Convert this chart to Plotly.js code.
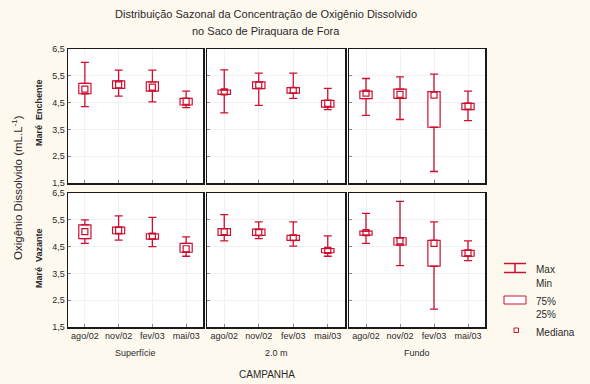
<!DOCTYPE html>
<html>
<head>
<meta charset="utf-8">
<script src="https://cdn.plot.ly/plotly-3.0.1.min.js"></script>
<style>html,body{margin:0;padding:0;background:#fdf9ef;}#chart{width:590px;height:384px;}</style>
</head>
<body>
<div id="chart"></div>
<script>
// ---- data ----
const categories = ["ago/02", "nov/02", "fev/03", "mai/03"];
const columns = ["Superfície", "2.0 m", "Fundo"];
const rows = ["Maré  Enchente", "Maré  Vazante"];
const titleLines = ["Distribuição Sazonal da Concentração de Oxigênio Dissolvido", "no Saco de Piraquara de Fora"];
const yTickVals = [1.5, 2.5, 3.5, 4.5, 5.5, 6.5];
const yTickText = ["1,5", "2,5", "3,5", "4,5", "5,5", "6,5"];

// Maré Enchente: [Superfície, 2.0 m, Fundo]
const enchMax = [[6.00, 5.71, 5.71, 4.93], [5.72, 5.60, 5.60, 5.03], [5.40, 5.46, 5.56, 4.93]];
const enchQ3  = [[5.22, 5.31, 5.27, 4.66], [4.97, 5.27, 5.06, 4.58], [4.93, 5.00, 4.91, 4.47]];
const enchMed = [[5.00, 5.16, 5.08, 4.55], [4.90, 5.15, 4.96, 4.47], [4.85, 4.81, 4.78, 4.37]];
const enchQ1  = [[4.83, 5.03, 4.93, 4.41], [4.81, 5.02, 4.85, 4.33], [4.65, 4.66, 3.58, 4.24]];
const enchMin = [[4.35, 4.74, 4.53, 4.31], [4.12, 4.40, 4.66, 4.24], [4.02, 3.87, 1.93, 3.83]];

// Maré Vazante: [Superfície, 2.0 m, Fundo]
const vazMax = [[5.50, 5.65, 5.59, 4.86], [5.69, 5.42, 5.42, 4.90], [5.74, 6.19, 5.42, 4.71]];
const vazQ3  = [[5.31, 5.23, 4.98, 4.62], [5.17, 5.15, 4.92, 4.43], [5.08, 4.83, 4.73, 4.36]];
const vazMed = [[5.06, 5.11, 4.89, 4.42], [5.06, 5.02, 4.83, 4.36], [5.02, 4.71, 4.62, 4.27]];
const vazQ1  = [[4.80, 4.98, 4.78, 4.29], [4.92, 4.92, 4.73, 4.27], [4.93, 4.56, 3.77, 4.14]];
const vazMin = [[4.62, 4.74, 4.50, 4.14], [4.71, 4.80, 4.52, 4.14], [4.62, 3.79, 2.17, 3.98]];

// ---- layout helpers ----
const W = 590, H = 384;
const px = x => x / W;
const py = y => 1 - y / H;
const colPx = [[68, 203], [207, 345], [349, 485]];
const rowPx = [[49, 183], [193, 327]];
const RED = "#cc1030";
const TXT = "#2a2a2a";
const FONT = "Liberation Sans, Arial, sans-serif";

const rowData = [
  {max: enchMax, q3: enchQ3, med: enchMed, q1: enchQ1, min: enchMin},
  {max: vazMax, q3: vazQ3, med: vazMed, q1: vazQ1, min: vazMin}
];

const traces = [];
const layout = {
  width: W, height: H,
  margin: {l: 0, r: 0, t: 0, b: 0},
  paper_bgcolor: "#fdf9ef",
  plot_bgcolor: "#ffffff",
  showlegend: false,
  barmode: "overlay",
  font: {family: FONT, size: 9, color: TXT},
  annotations: [],
  shapes: []
};

let k = 0;
for (let r = 0; r < 2; r++) {
  for (let c = 0; c < 3; c++) {
    k++;
    const xa = k === 1 ? "x" : "x" + k;
    const ya = k === 1 ? "y" : "y" + k;
    const d = rowData[r];
    const q1 = d.q1[c], q3 = d.q3[c], med = d.med[c], mn = d.min[c], mx = d.max[c];
    // box (75% / 25%)
    traces.push({
      type: "bar", x: categories, y: q3.map((v, i) => v - q1[i]), base: q1,
      width: 0.36, xaxis: xa, yaxis: ya,
      marker: {color: "#ffffff", line: {color: RED, width: 1.2}}, hoverinfo: "skip"
    });
    // upper whisker
    traces.push({
      type: "scatter", mode: "markers", x: categories, y: q3, xaxis: xa, yaxis: ya,
      marker: {size: 1, color: "rgba(0,0,0,0)"},
      error_y: {type: "data", symmetric: false, array: mx.map((v, i) => v - q3[i]),
                arrayminus: q3.map(() => 0), color: RED, thickness: 1.3, width: 4},
      hoverinfo: "skip"
    });
    // lower whisker
    traces.push({
      type: "scatter", mode: "markers", x: categories, y: q1, xaxis: xa, yaxis: ya,
      marker: {size: 1, color: "rgba(0,0,0,0)"},
      error_y: {type: "data", symmetric: false, array: q1.map(() => 0),
                arrayminus: q1.map((v, i) => v - mn[i]), color: RED, thickness: 1.3, width: 4},
      hoverinfo: "skip"
    });
    // median
    traces.push({
      type: "scatter", mode: "markers", x: categories, y: med, xaxis: xa, yaxis: ya,
      marker: {symbol: "square-open", size: 6, color: RED, line: {color: RED, width: 1.2}},
      hoverinfo: "skip"
    });

    const xKey = k === 1 ? "xaxis" : "xaxis" + k;
    const yKey = k === 1 ? "yaxis" : "yaxis" + k;
    layout[xKey] = {
      domain: [px(colPx[c][0]), px(colPx[c][1])], anchor: ya,
      type: "category", categoryarray: categories, range: [-0.5, 3.5],
      showline: true, mirror: true, linecolor: "#1a1a1a", linewidth: 1.5,
      ticks: "inside", ticklen: 3, tickcolor: "#888",
      showgrid: true, gridcolor: "#f1f1f1", zeroline: false,
      showticklabels: r === 1, tickfont: {family: FONT, size: 9, color: TXT},
      fixedrange: true
    };
    layout[yKey] = {
      domain: [py(rowPx[r][1]), py(rowPx[r][0])], anchor: xa,
      range: [1.5, 6.5], tickvals: yTickVals, ticktext: yTickText,
      showline: true, mirror: true, linecolor: "#1a1a1a", linewidth: 1.5,
      ticks: "inside", ticklen: 3, tickcolor: "#888",
      showgrid: true, gridcolor: "#f1f1f1", zeroline: false,
      showticklabels: c === 0, tickfont: {family: FONT, size: 9, color: TXT},
      fixedrange: true
    };
  }
}

// Titles and labels
const ann = layout.annotations;
titleLines.forEach((t, i) => ann.push({
  text: t, xref: "paper", yref: "paper", x: px(266), y: py(i === 0 ? 14 : 31),
  xanchor: "center", yanchor: "middle", showarrow: false, font: {family: FONT, size: 11, color: TXT}
}));
columns.forEach((t, c) => ann.push({
  text: t, xref: "paper", yref: "paper", x: px((colPx[c][0] + colPx[c][1]) / 2), y: py(353),
  xanchor: "center", yanchor: "middle", showarrow: false, font: {family: FONT, size: 9, color: TXT}
}));
ann.push({text: "CAMPANHA", xref: "paper", yref: "paper", x: px(267), y: py(374),
  xanchor: "center", yanchor: "middle", showarrow: false, font: {family: FONT, size: 10, color: TXT}});
ann.push({text: "Oxigênio Dissolvido (mL.L<sup>-1</sup>)", xref: "paper", yref: "paper", x: px(17), y: py(188),
  xanchor: "center", yanchor: "middle", textangle: -90, showarrow: false, font: {family: FONT, size: 11.5, color: TXT}});
rows.forEach((t, r) => ann.push({
  text: "<b>" + t + "</b>", xref: "paper", yref: "paper", x: px(39), y: py(r === 0 ? 113 : 258),
  xanchor: "center", yanchor: "middle", textangle: -90, showarrow: false, font: {family: FONT, size: 9, color: TXT}
}));

// Legend (drawn manually)
const legTexts = [["Max", 269], ["Min", 283], ["75%", 301], ["25%", 314], ["Mediana", 332]];
legTexts.forEach(([t, y]) => ann.push({
  text: t, xref: "paper", yref: "paper", x: px(534), y: py(y), xanchor: "left", yanchor: "middle",
  showarrow: false, font: {family: FONT, size: 10, color: TXT}
}));
const sh = layout.shapes;
const ln = (x0, y0, x1, y1) => sh.push({type: "line", xref: "paper", yref: "paper",
  x0: px(x0), y0: py(y0), x1: px(x1), y1: py(y1), line: {color: RED, width: 1.5}});
ln(504, 263.5, 526, 263.5);
ln(504, 272.5, 526, 272.5);
ln(515, 263.5, 515, 272.5);
sh.push({type: "rect", xref: "paper", yref: "paper", x0: px(504), x1: px(526), y0: py(304), y1: py(296),
  line: {color: RED, width: 1}, fillcolor: "#ffffff"});
sh.push({type: "rect", xref: "paper", yref: "paper", x0: px(514), x1: px(518.5), y0: py(332.5), y1: py(328),
  line: {color: RED, width: 1}, fillcolor: "rgba(0,0,0,0)"});

Plotly.newPlot("chart", traces, layout, {staticPlot: true, displayModeBar: false});
</script>
</body>
</html>
